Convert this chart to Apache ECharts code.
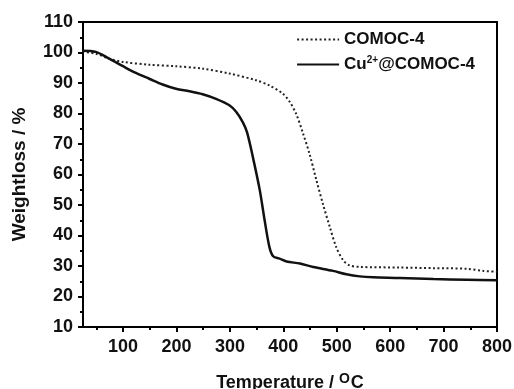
<!DOCTYPE html>
<html><head><meta charset="utf-8">
<script src="https://cdn.jsdelivr.net/npm/echarts@6/dist/echarts.min.js"></script>
<style>html,body{margin:0;padding:0;background:#fff}#c{width:514px;height:389px}</style>
</head><body><div id="c"></div>
<script>
var tempCu = [24,49,74,100,124,149,174,199,224,249,274,299,312,324,332,343,356,365,374,381,393,406,431,456,493,518,543,568,618,681,743,800];
var weightCu = [100.6,100.2,98,95.5,93.3,91.4,89.5,88.1,87.3,86.3,84.8,82.7,80.5,77.2,73.9,65.7,54.8,45,36.2,33.2,32.4,31.5,30.8,29.7,28.4,27.3,26.6,26.3,26.1,25.7,25.5,25.3];
var tempCo = [24,49,74,100,149,199,249,299,349,374,399,412,424,437,449,462,474,487,499,512,524,543,618,681,743,774,800];
var weightCo = [100.3,99.6,98,96.9,96,95.5,94.7,93.1,90.9,89.2,86.5,83.8,79.9,73.4,66.8,58.1,50.4,42.8,36.2,31.9,30.2,29.7,29.5,29.3,29.1,28.4,28.1];
var xLabels = [100,200,300,400,500,600,700,800];
var xMinor = [50,150,250,350,450,550,650,750];
var nameCo = 'COMOC-4';
var nameCu = 'Cu2+@COMOC-4';

function zip(a,b){return a.map(function(v,i){return [v,b[i]];});}
var font = 'Liberation Sans, Arial, sans-serif';
var chart = echarts.init(document.getElementById('c'));
chart.setOption({
  animation:false,
  grid:{left:83,right:17,top:22,bottom:62,show:true,borderColor:'#000',borderWidth:2,containLabel:false,outerBoundsMode:'none'},
  legend:{
    orient:'vertical', right:34, top:26, itemWidth:42, itemHeight:10, itemGap:7,
    itemStyle:{opacity:0},
    data:[nameCo,nameCu],
    textStyle:{fontFamily:font,fontWeight:'bold',fontSize:17,color:'#111',
      rich:{a:{fontFamily:font,fontWeight:'bold',fontSize:17,color:'#111'},
            s:{fontFamily:font,fontWeight:'bold',fontSize:10,color:'#111',verticalAlign:'top',padding:[0,0,9,0]}}},
    formatter:function(n){ if(n===nameCu) return '{a|Cu}{s|2+}{a|@COMOC-4}'; return '{a|'+n+'}'; }
  },
  xAxis:[{
    type:'value', min:25, max:800, position:'bottom',
    name:'Temperature / {s|O}C', nameLocation:'middle', nameGap:45,
    nameTextStyle:{fontFamily:font,fontWeight:'bold',fontSize:18,color:'#111',
      rich:{s:{fontFamily:font,fontWeight:'bold',fontSize:14,color:'#111',verticalAlign:'top',padding:[0,1,8,0]}}},
    axisLine:{show:true,lineStyle:{color:'#000',width:2}},
    axisTick:{show:true,inside:false,length:5,customValues:xLabels,lineStyle:{color:'#000',width:2}},
    axisLabel:{customValues:xLabels,fontFamily:font,fontWeight:'bold',fontSize:18,color:'#111',margin:11},
    splitLine:{show:false}
  },{
    type:'value', min:25, max:800, position:'bottom',
    axisLine:{show:false},
    axisTick:{show:true,inside:false,length:3,customValues:xMinor,lineStyle:{color:'#000',width:2}},
    axisLabel:{show:false},
    splitLine:{show:false}
  }],
  yAxis:{
    type:'value', min:10, max:110, interval:10,
    name:'Weightloss / %', nameLocation:'middle', nameGap:54,
    nameTextStyle:{fontFamily:font,fontWeight:'bold',fontSize:19,color:'#111'},
    axisLine:{show:true,lineStyle:{color:'#000',width:2}},
    axisTick:{show:true,inside:false,length:5,lineStyle:{color:'#000',width:2}},
    minorTick:{show:true,splitNumber:2,length:3,lineStyle:{color:'#000',width:2}},
    axisLabel:{fontFamily:font,fontWeight:'bold',fontSize:18,color:'#111',margin:10},
    splitLine:{show:false}
  },
  series:[{
    name:nameCo, type:'line', smooth:0.3, symbol:'none', data:zip(tempCo,weightCo),
    lineStyle:{color:'#222',width:2,type:[2,2.5]}, itemStyle:{color:'#222'}
  },{
    name:nameCu, type:'line', smooth:0.3, symbol:'none', data:zip(tempCu,weightCu),
    lineStyle:{color:'#111',width:2.5,type:'solid'}, itemStyle:{color:'#111'}
  }]
});
</script></body></html>
